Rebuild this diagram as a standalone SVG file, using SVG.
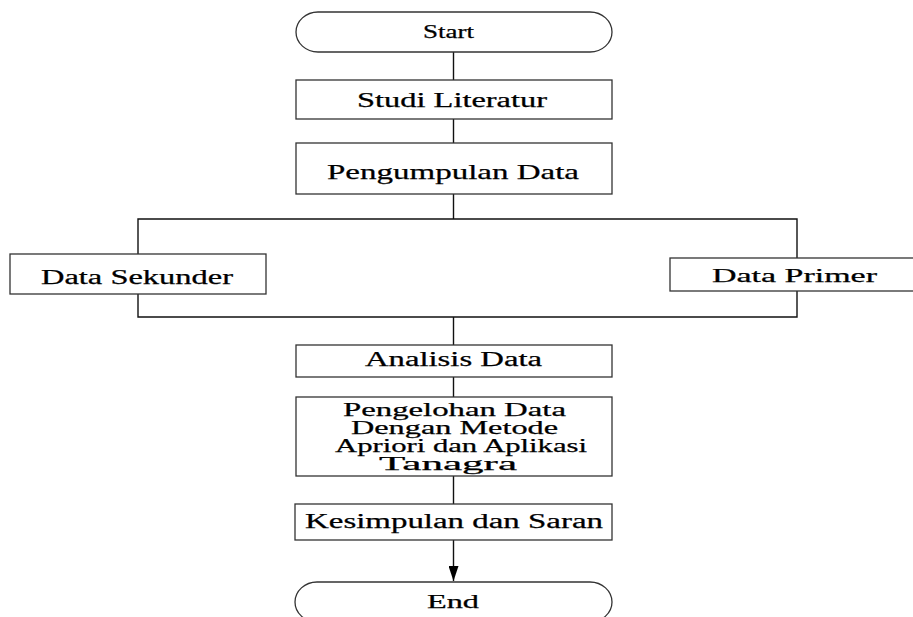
<svg xmlns="http://www.w3.org/2000/svg" width="913" height="617" viewBox="0 0 913 617">
<defs>
<style>
.box{fill:#fff;stroke:#333;stroke-width:1.3}
.ln{fill:none;stroke:#111;stroke-width:1.4}
.t{font-family:"Liberation Serif","Times New Roman",serif;font-size:20px;fill:#000;stroke:#000;stroke-width:0.25}
.s{font-size:19px}
</style>
<marker id="arr" markerWidth="16" markerHeight="10" refX="15" refY="5" orient="auto" markerUnits="userSpaceOnUse">
<path d="M0,0 L15,5 L0,10 Z" fill="#000"/>
</marker>
</defs>
<rect width="913" height="617" fill="#fff"/>
<g id="connectors">
<line class="ln" x1="453.5" y1="52" x2="453.5" y2="80"/>
<line class="ln" x1="453.5" y1="119" x2="453.5" y2="143"/>
<line class="ln" x1="453.5" y1="194" x2="453.5" y2="219"/>
<polyline class="ln" points="138,254 138,219 797,219 797,258"/>
<polyline class="ln" points="138,294 138,317 797,317 797,291"/>
<line class="ln" x1="453.5" y1="317" x2="453.5" y2="345"/>
<line class="ln" x1="453.5" y1="377" x2="453.5" y2="397"/>
<line class="ln" x1="453.5" y1="476" x2="453.5" y2="504"/>
<line class="ln" x1="453.5" y1="540" x2="453.5" y2="581" marker-end="url(#arr)"/>
</g>
<g id="start">
<rect class="box" x="296" y="12" width="316" height="40" rx="22" ry="20"/>
<text class="t s" x="423" y="38" textLength="51" lengthAdjust="spacingAndGlyphs">Start</text>
</g>
<g id="studi">
<rect class="box" x="296" y="80" width="316" height="39"/>
<text class="t" x="357" y="107" textLength="190" lengthAdjust="spacingAndGlyphs">Studi Literatur</text>
</g>
<g id="pengumpulan">
<rect class="box" x="296" y="143" width="316" height="51"/>
<text class="t" x="327" y="179" textLength="252" lengthAdjust="spacingAndGlyphs" style="font-size:22px">Pengumpulan Data</text>
</g>
<g id="sekunder">
<rect class="box" x="10" y="254" width="256" height="40"/>
<text class="t" x="41" y="284" textLength="192" lengthAdjust="spacingAndGlyphs">Data Sekunder</text>
</g>
<g id="primer">
<rect class="box" x="670" y="258" width="260" height="33"/>
<text class="t s" x="712" y="282" textLength="165" lengthAdjust="spacingAndGlyphs">Data Primer</text>
</g>
<g id="analisis">
<rect class="box" x="296" y="345" width="316" height="32"/>
<text class="t" x="365" y="366" textLength="177" lengthAdjust="spacingAndGlyphs">Analisis Data</text>
</g>
<g id="pengelohan">
<rect class="box" x="296" y="397" width="316" height="79"/>
<text class="t s" x="343" y="416" textLength="223" lengthAdjust="spacingAndGlyphs">Pengelohan Data</text>
<text class="t s" x="351" y="434" textLength="207" lengthAdjust="spacingAndGlyphs">Dengan Metode</text>
<text class="t s" x="335" y="452" textLength="252" lengthAdjust="spacingAndGlyphs">Apriori dan Aplikasi</text>
<text class="t s" x="379" y="470" textLength="138" lengthAdjust="spacingAndGlyphs">Tanagra</text>
</g>
<g id="kesimpulan">
<rect class="box" x="295" y="504" width="317" height="36"/>
<text class="t" x="305" y="528" textLength="298" lengthAdjust="spacingAndGlyphs">Kesimpulan dan Saran</text>
</g>
<g id="end">
<rect class="box" x="295" y="582" width="317" height="40" rx="22" ry="20"/>
<text class="t s" x="427" y="608" textLength="52" lengthAdjust="spacingAndGlyphs">End</text>
</g>
</svg>
